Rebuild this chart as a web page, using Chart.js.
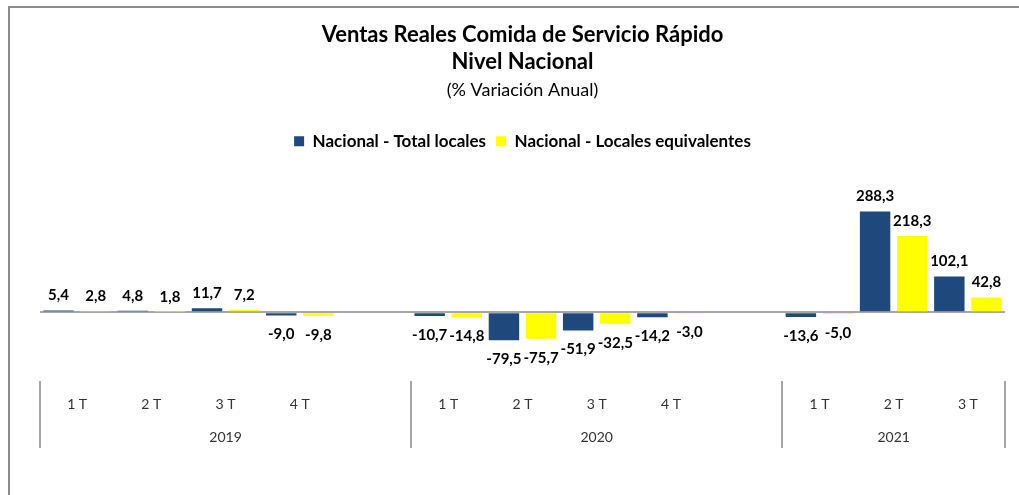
<!DOCTYPE html>
<html lang="es">
<head>
<meta charset="utf-8"/>
<title>Ventas Reales Comida de Servicio Rápido</title>
<script src="https://cdn.jsdelivr.net/npm/chart.js@4.4.1/dist/chart.umd.min.js"></script>
<style>
  html, body { margin: 0; padding: 0; background: #fff; overflow: hidden; }
  #wrap { position: relative; width: 1019px; height: 495px; }
  /* only the top and left edges of the frame are inside the picture */
  #frame { position: absolute; left: 8px; top: 6px; width: 1100px; height: 600px;
           border-left: 2px solid #8c8c8c; border-top: 2px solid #8c8c8c; pointer-events: none; }
</style>
</head>
<body>
<div id="wrap">
  <canvas id="myChart" width="1019" height="495"></canvas>
  <div id="frame"></div>
</div>
<script>
  // categories: empty slots separate the years, as in the original sheet
  const quarters = ['1 T', '2 T', '3 T', '4 T', '', '1 T', '2 T', '3 T', '4 T', '', '1 T', '2 T', '3 T'];
  const years = ['2019', '2020', '2021'];
  const yearSpans = [5, 5, 3];   // how many category slots each year covers

  const totalLocales = [5.4, 4.8, 11.7, -9.0, null, -10.7, -79.5, -51.9, -14.2, null, -13.6, 288.3, 102.1];
  const localesEquiv = [2.8, 1.8, 7.2, -9.8, null, -14.8, -75.7, -32.5, -3.0, null, -5.0, 218.3, 42.8];

  const FONT = 'Lato, "Open Sans", sans-serif';

  // value labels above positive bars, below negative ones
  const valueLabels = {
    id: 'valueLabels',
    afterDatasetsDraw(chart) {
      const ctx = chart.ctx;
      ctx.save();
      ctx.font = 'bold 15px ' + FONT;
      ctx.fillStyle = '#000';
      ctx.textAlign = 'center';
      ctx.textBaseline = 'middle';
      chart.data.datasets.forEach((ds, di) => {
        chart.getDatasetMeta(di).data.forEach((bar, i) => {
          const v = ds.data[i];
          if (v === null || v === undefined) return;
          const y = v >= 0 ? bar.y - 15 : bar.y + 19;
          ctx.fillText(v.toFixed(1).replace('.', ','), bar.x, y);
        });
      });
      ctx.restore();
    }
  };

  // second level of the category axis: year names and separator ticks
  const yearAxis = {
    id: 'yearAxis',
    afterDraw(chart) {
      const x = chart.scales.x;
      const ctx = chart.ctx;
      const step = x.getPixelForValue(1) - x.getPixelForValue(0);
      const edge = i => x.getPixelForValue(i) - step / 2;
      const sep = px => {
        ctx.beginPath();
        ctx.moveTo(Math.round(px), 381);
        ctx.lineTo(Math.round(px), 448);
        ctx.stroke();
      };
      ctx.save();
      ctx.strokeStyle = '#a6a6a6';
      ctx.lineWidth = 2;
      ctx.font = '14px ' + FONT;
      ctx.fillStyle = '#333';
      ctx.textAlign = 'center';
      ctx.textBaseline = 'middle';
      let start = 0;
      yearSpans.forEach((n, k) => {
        const l = edge(start), r = edge(start + n);
        sep(l);
        ctx.fillText(years[k], (l + r) / 2, 437);
        start += n;
      });
      sep(edge(start));
      ctx.restore();
    }
  };

  new Chart(document.getElementById('myChart'), {
    type: 'bar',
    data: {
      labels: quarters,
      datasets: [
        { label: 'Nacional - Total locales', data: totalLocales, backgroundColor: '#1f497d' },
        { label: 'Nacional - Locales equivalentes', data: localesEquiv, backgroundColor: '#ffff00' }
      ]
    },
    options: {
      responsive: false,
      animation: false,
      events: [],
      categoryPercentage: 1.0,
      barPercentage: 0.82,
      layout: { padding: { left: 40, right: 14, top: 0, bottom: 69 } },
      plugins: {
        title: {
          display: true,
          text: ['Ventas Reales Comida de Servicio Rápido', 'Nivel Nacional'],
          color: '#000',
          font: { family: FONT, size: 22, weight: 'bold', lineHeight: 1.23 },
          padding: { top: 21, bottom: 0 }
        },
        subtitle: {
          display: true,
          text: '(% Variación Anual)',
          color: '#000',
          font: { family: FONT, size: 18, weight: 'normal', lineHeight: 1.2 },
          padding: { top: 4, bottom: 22 }
        },
        legend: {
          position: 'top',
          labels: {
            boxWidth: 10,
            boxHeight: 10,
            padding: 10,
            color: '#000',
            font: { family: FONT, size: 17, weight: 'bold' }
          }
        },
        tooltip: { enabled: false }
      },
      scales: {
        x: {
          grid: { display: false },
          border: { display: false },
          ticks: {
            autoSkip: false,
            maxRotation: 0,
            padding: 13,
            color: '#333',
            font: { family: FONT, size: 14 }
          }
        },
        y: {
          min: -179.5,
          max: 436,
          border: { display: false },
          grid: {
            drawTicks: false,
            lineWidth: 2,
            color: c => (c.tick.value === 0 ? '#a6a6a6' : 'transparent')
          },
          ticks: { display: false, stepSize: 20 }
        }
      }
    },
    plugins: [valueLabels, yearAxis]
  });
</script>
</body>
</html>
